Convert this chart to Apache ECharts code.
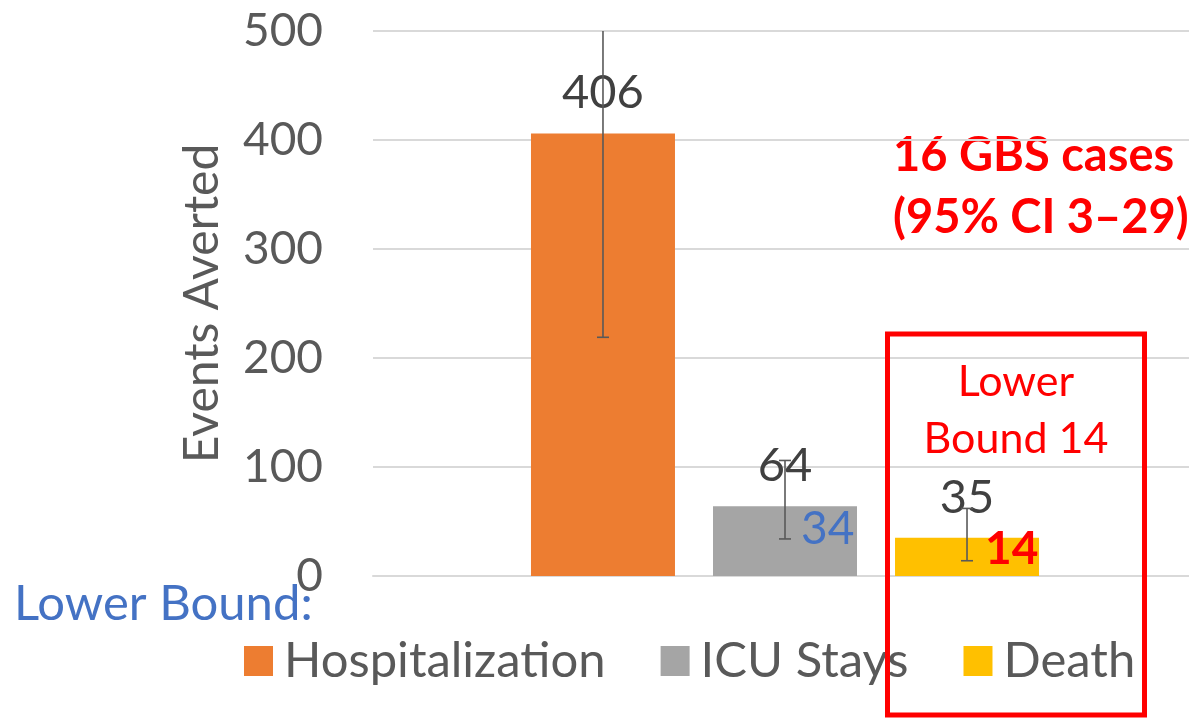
<!DOCTYPE html>
<html>
<head>
<meta charset="utf-8">
<script src="https://cdn.jsdelivr.net/npm/echarts@6/dist/echarts.min.js"></script>
<style>
  html, body { margin: 0; padding: 0; background: #fff; }
  #chart { width: 1189px; height: 718px; }
</style>
</head>
<body>
<div id="chart"></div>
<script>
// data
const categories = ["Hospitalization", "ICU Stays", "Death"];
const averted = [406, 64, 35];
const lowerBound = [219, 34, 14];
const upperBound = [594, 106, 62];
const yTicks = [0, 100, 200, 300, 400, 500];

const colors = ["#ED7D31", "#A5A5A5", "#FFC000"];
const FONT = "Lato, 'Noto Sans', sans-serif";
const BAR_W = 144;
const BAR_GAP = 0.264;

// only ICU and Death get a lower-bound tag next to the whisker
const lowTag = [
  null,
  { color: "#4472C4", weight: "normal", dx: 16, dy: -10 },
  { color: "#FF0000", weight: "bold", dx: 18, dy: -12 },
];

const chart = echarts.init(document.getElementById("chart"));

const renderErrorBar = (params, api) => {
  const k = api.value(3);
  const dx = (k - 1) * BAR_W * (1 + BAR_GAP);
  const lo = api.coord([0, api.value(1)]);
  const hi = api.coord([0, api.value(2)]);
  const x = lo[0] + dx;
  const s = { stroke: "#595959", lineWidth: 1.6 };
  const children = [
    { type: "line", shape: { x1: x, y1: lo[1], x2: x, y2: hi[1] }, style: s },
    { type: "line", shape: { x1: x - 6, y1: lo[1], x2: x + 6, y2: lo[1] }, style: s },
    { type: "line", shape: { x1: x - 6, y1: hi[1], x2: x + 6, y2: hi[1] }, style: s },
  ];
  const tag = lowTag[k];
  if (tag) {
    children.push({
      type: "text",
      x: x + tag.dx,
      y: lo[1] + tag.dy,
      style: {
        text: String(api.value(1)),
        fill: tag.color,
        font: `${tag.weight} 46px ${FONT}`,
        align: "left",
        verticalAlign: "middle",
      },
    });
  }
  return { type: "group", children };
};

const option = {
  animation: false,
  textStyle: { fontFamily: FONT },
  grid: { left: 373, top: 31, width: 824, height: 545, outerBoundsMode: "none" },
  legend: {
    data: categories,
    left: 244,
    top: 636,
    padding: 0,
    icon: "rect",
    itemWidth: 29,
    itemHeight: 30,
    itemGap: 55,
    textStyle: { fontSize: 49, lineHeight: 50, color: "#595959", padding: [0, 0, 0, 6] },
  },
  xAxis: {
    type: "category",
    data: ["Events"],
    axisLine: { lineStyle: { color: "#D9D9D9", width: 2 } },
    axisTick: { show: false },
    axisLabel: { show: false },
  },
  yAxis: {
    type: "value",
    min: yTicks[0],
    max: yTicks[yTicks.length - 1],
    interval: yTicks[1] - yTicks[0],
    name: "Events Averted",
    nameLocation: "middle",
    nameGap: 146,
    nameTextStyle: { fontSize: 48, color: "#595959" },
    axisLine: { show: false },
    axisTick: { show: false },
    axisLabel: { fontSize: 46, color: "#595959", margin: 50 },
    splitLine: { lineStyle: { color: "#D9D9D9", width: 2 } },
  },
  series: [
    ...categories.map((name, i) => ({
      name,
      type: "bar",
      data: [averted[i]],
      barWidth: BAR_W,
      barGap: BAR_GAP * 100 + "%",
      itemStyle: { color: colors[i] },
      label: {
        show: true,
        position: "top",
        distance: 17,
        fontSize: 47,
        color: "#404040",
      },
      emphasis: { disabled: true },
    })),
    {
      type: "custom",
      name: "range",
      renderItem: renderErrorBar,
      clip: true,
      z: 5,
      encode: { x: 0, y: [1, 2] },
      data: categories.map((c, i) => [0, lowerBound[i], upperBound[i], i]),
      silent: true,
    },
  ],
  graphic: [
    {
      type: "text",
      left: 893,
      top: 125,
      style: {
        text: "16 GBS cases\n(95% CI 3\u201329)",
        font: `bold 47px ${FONT}`,
        fill: "#FF0000",
        lineHeight: 62,
      },
    },
    {
      type: "rect",
      shape: { x: 887.5, y: 334, width: 257, height: 381 },
      style: { stroke: "#FF0000", lineWidth: 5, fill: "none" },
      z: 10,
    },
    {
      type: "text",
      x: 1016,
      y: 411,
      style: {
        text: "Lower\nBound 14",
        font: `43px ${FONT}`,
        fill: "#FF0000",
        align: "center",
        verticalAlign: "middle",
        lineHeight: 57,
      },
    },
    {
      type: "text",
      left: 14,
      top: 580,
      style: {
        text: "Lower Bound:",
        font: `49px ${FONT}`,
        fill: "#4472C4",
      },
    },
  ],
};

chart.setOption(option);
window.addEventListener("resize", () => {
  chart?.resize();
});
</script>
</body>
</html>
